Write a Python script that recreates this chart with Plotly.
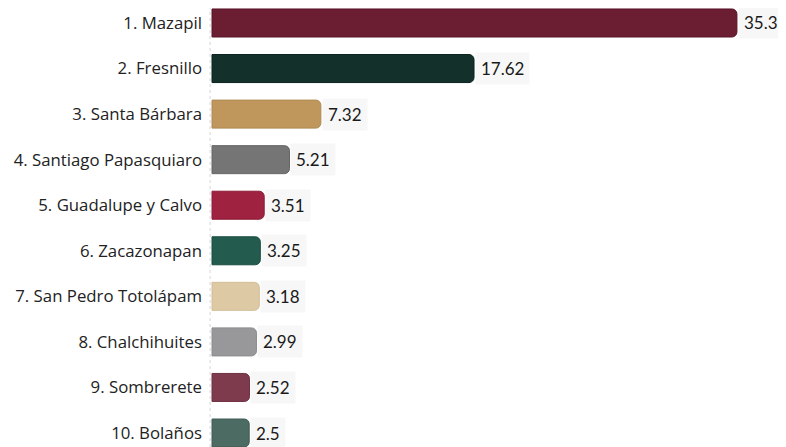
import plotly.graph_objects as go

categories = ["1. Mazapil", "2. Fresnillo", "3. Santa Bárbara", "4. Santiago Papasquiaro",
              "5. Guadalupe y Calvo", "6. Zacazonapan", "7. San Pedro Totolápam",
              "8. Chalchihuites", "9. Sombrerete", "10. Bolaños"]
values = [35.3, 17.62, 7.32, 5.21, 3.51, 3.25, 3.18, 2.99, 2.52, 2.5]
value_labels = ["35.3", "17.62", "7.32", "5.21", "3.51", "3.25", "3.18", "2.99", "2.52", "2.5"]
colors = ["#6b1d31", "#13302a", "#bf975c", "#757575", "#9f2241",
          "#235b4e", "#ddc9a3", "#98989a", "#7f3b4e", "#4c6b62"]
outline = ["#5a1428", "#0b231e", "#b08a52", "#666666", "#8c1c37",
           "#1b4d41", "#d2bf98", "#8c8c8e", "#6e3042", "#3f5c54"]

fig = go.Figure()
fig.add_trace(go.Bar(
    x=values, y=categories, orientation="h",
    marker=dict(color=colors, line=dict(color=outline, width=1)),
    hoverinfo="skip",
))

for cat, v, lab in zip(categories, values, value_labels):
    fig.add_annotation(
        x=v, y=cat, xref="x", yref="y", text=lab, showarrow=False,
        xanchor="left", yanchor="middle", xshift=1,
        bgcolor="#f7f7f7", borderpad=5,
        font=dict(family="Lato, Open Sans, sans-serif", size=17, color="#1a1a1a"),
    )

fig.add_shape(type="line", xref="x", yref="paper", x0=-0.13, x1=-0.13, y0=0, y1=1,
              line=dict(color="#d6d6d6", width=1, dash="dot"), layer="below")

# page is offset by the 8px body margin, so the figure is sized to fit the window
fig.update_layout(
    width=778, height=439,
    margin=dict(l=200, r=0, t=0, b=0),
    paper_bgcolor="white", plot_bgcolor="white",
    bargap=0.385, barcornerradius=5,
    showlegend=False,
    xaxis=dict(range=[-0.27, 38.6], showgrid=False, zeroline=False, showticklabels=False,
               showline=False, ticks="", automargin=False),
    yaxis=dict(range=[9.307, -0.329], showgrid=False, zeroline=False, showline=False,
               ticks="", ticklabelstandoff=5, automargin=False,
               tickfont=dict(family="Open Sans, sans-serif", size=16.8, color="#222222")),
)

fig.write_html("out.html")
